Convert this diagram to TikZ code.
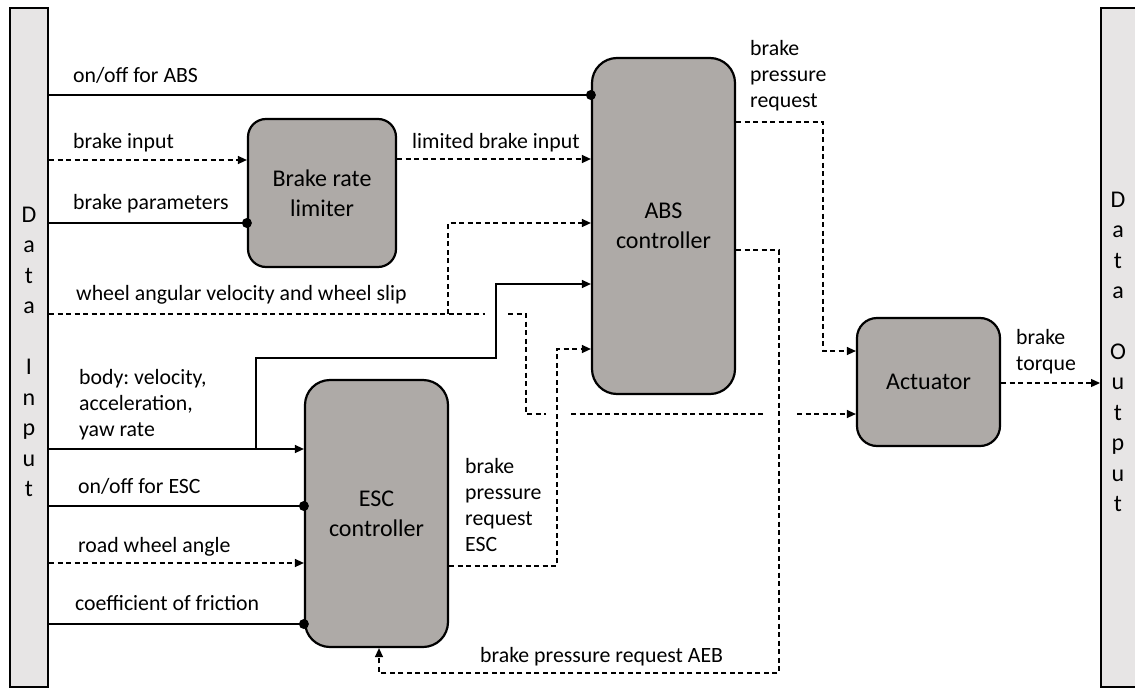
\documentclass[tikz,border=0pt]{standalone}
\usepackage{fontspec}
\setmainfont{Carlito}
\usetikzlibrary{arrows.meta}
\definecolor{boxfill}{RGB}{174,170,167}
\definecolor{barfill}{RGB}{231,229,229}
\frenchspacing
\begin{document}
\begin{tikzpicture}[x=1pt,y=-1pt,
  block/.style={draw, line width=2.2pt, fill=boxfill, rounded corners=22pt, inner sep=0pt,
    font=\fontsize{24}{30}\selectfont, align=center},
  bar/.style={draw, line width=2pt, fill=barfill, inner sep=0pt},
  bartext/.style={inner sep=0pt, font=\fontsize{24}{30.5}\selectfont, align=center},
  lbl/.style={inner sep=0pt, font=\fontsize{21.8}{26}\selectfont, align=left},
  sig/.style={line width=1.3pt},
  dsig/.style={line width=1.3pt, dash pattern=on 5pt off 3.5pt},
  arr/.style={-{Triangle[length=9pt,width=8pt]}},
  dot/.style={circle, fill=black, inner sep=0pt, minimum size=10pt}]
\useasboundingbox (0,0) rectangle (1135,688);
\clip (0,0) rectangle (1135,688);

% side bars
\node[bar, minimum width=38pt, minimum height=679pt] (din) at (29,347.5) {};
\node[bartext] (dinlbl) at (29,352) {D\\a\\t\\a\\[30.5pt]I\\n\\p\\u\\t};
\node[bar, minimum width=40pt, minimum height=679pt] (dout) at (1121,347.5) {};
\node[bartext] (doutlbl) at (1118,352) {D\\a\\t\\a\\[30pt]O\\u\\t\\p\\u\\t};

% blocks
\node[block, rounded corners=18pt, minimum width=148pt, minimum height=148pt] (brl) at (322,193) {Brake rate\\limiter};
\node[block, rounded corners=25pt, minimum width=143pt, minimum height=336pt] (abs) at (663.5,226) {ABS\\controller};
\node[block, rounded corners=25pt, minimum width=143pt, minimum height=267pt] (esc) at (376.5,513.5) {ESC\\controller};
\node[block, rounded corners=20pt, minimum width=143pt, minimum height=128pt] (act) at (928.5,382) {Actuator};

% labels
\node[lbl, anchor=base west] (l1) at (73,82) {on/off for ABS};
\node[lbl, anchor=base west] (l2) at (73,148) {brake input};
\node[lbl, anchor=base west] (l3) at (73,209) {brake parameters};
\node[lbl, anchor=base west] (l4) at (76,300) {wheel angular velocity and wheel slip};
\node[lbl, anchor=north west] (l5) at (79,369) {body: velocity,\\acceleration,\\yaw rate};
\node[lbl, anchor=base west] (l6) at (78,493) {on/off for ESC};
\node[lbl, anchor=base west] (l7) at (78,552) {road wheel angle};
\node[lbl, anchor=base west] (l8) at (75,610) {coefficient of friction};
\node[lbl, anchor=base west] (l9) at (412,148) {limited brake input};
\node[lbl, anchor=north west] (l10) at (750,40) {brake\\pressure\\request};
\node[lbl, anchor=north west] (l11) at (465,458) {brake\\pressure\\request\\ESC};
\node[lbl, anchor=base west] (l12) at (480,662) {brake pressure request AEB};
\node[lbl, anchor=north west] (l13) at (1016,329) {brake\\torque};

% helper coordinates (line jumps)
\coordinate (wA) at (485,314);
\coordinate (wB) at (508,314);
\coordinate (wbr) at (448,314);
\coordinate (wC) at (546,414);
\coordinate (wD) at (571,414);
\coordinate (wE) at (765,414);
\coordinate (wF) at (797,414);
\coordinate (bbr) at (256,449);

% inputs to ABS / BRL
\draw[sig] (din.east |- 0,95) -- (abs.west |- 0,95) node[dot]{};
\draw[dsig, arr] (din.east |- 0,160) -- (brl.west |- 0,160);
\draw[sig] (din.east |- 0,223) -- (brl.west |- 0,223) node[dot]{};
\draw[dsig, arr] (brl.east |- 0,159) -- (abs.west |- 0,159);

% wheel angular velocity
\draw[dsig] (din.east |- wA) -- (wA);
\draw[dsig, arr] (wbr) |- (abs.west |- 0,223);
\draw[dsig] (wB) -| (526,414) -- (wC);
\draw[dsig] (wD) -- (wE);
\draw[dsig, arr] (wF) -- (act.west |- wF);

% body velocity
\draw[sig, arr] (din.east |- bbr) -- (esc.west |- bbr);
\draw[sig, arr] (bbr) |- (496,358) |- (abs.west |- 0,284);

% ESC inputs
\draw[sig] (din.east |- 0,506) -- (esc.west |- 0,506) node[dot]{};
\draw[dsig, arr] (din.east |- 0,563) -- (esc.west |- 0,563);
\draw[sig] (din.east |- 0,624) -- (esc.west |- 0,624) node[dot]{};

% ESC output
\draw[dsig, arr] (esc.east |- 0,566) -| (557,349) -- (abs.west |- 0,349);

% ABS outputs
\draw[dsig, arr] (abs.east |- 0,122) -| (823,351) -- (act.west |- 0,351);
\draw[dsig, arr] (abs.east |- 0,250) -| (779,673) -| (esc.south -| 379,0);

% actuator output
\draw[dsig, arr] (act.east |- 0,383) -- (dout.west |- 0,383);
\end{tikzpicture}
\end{document}
